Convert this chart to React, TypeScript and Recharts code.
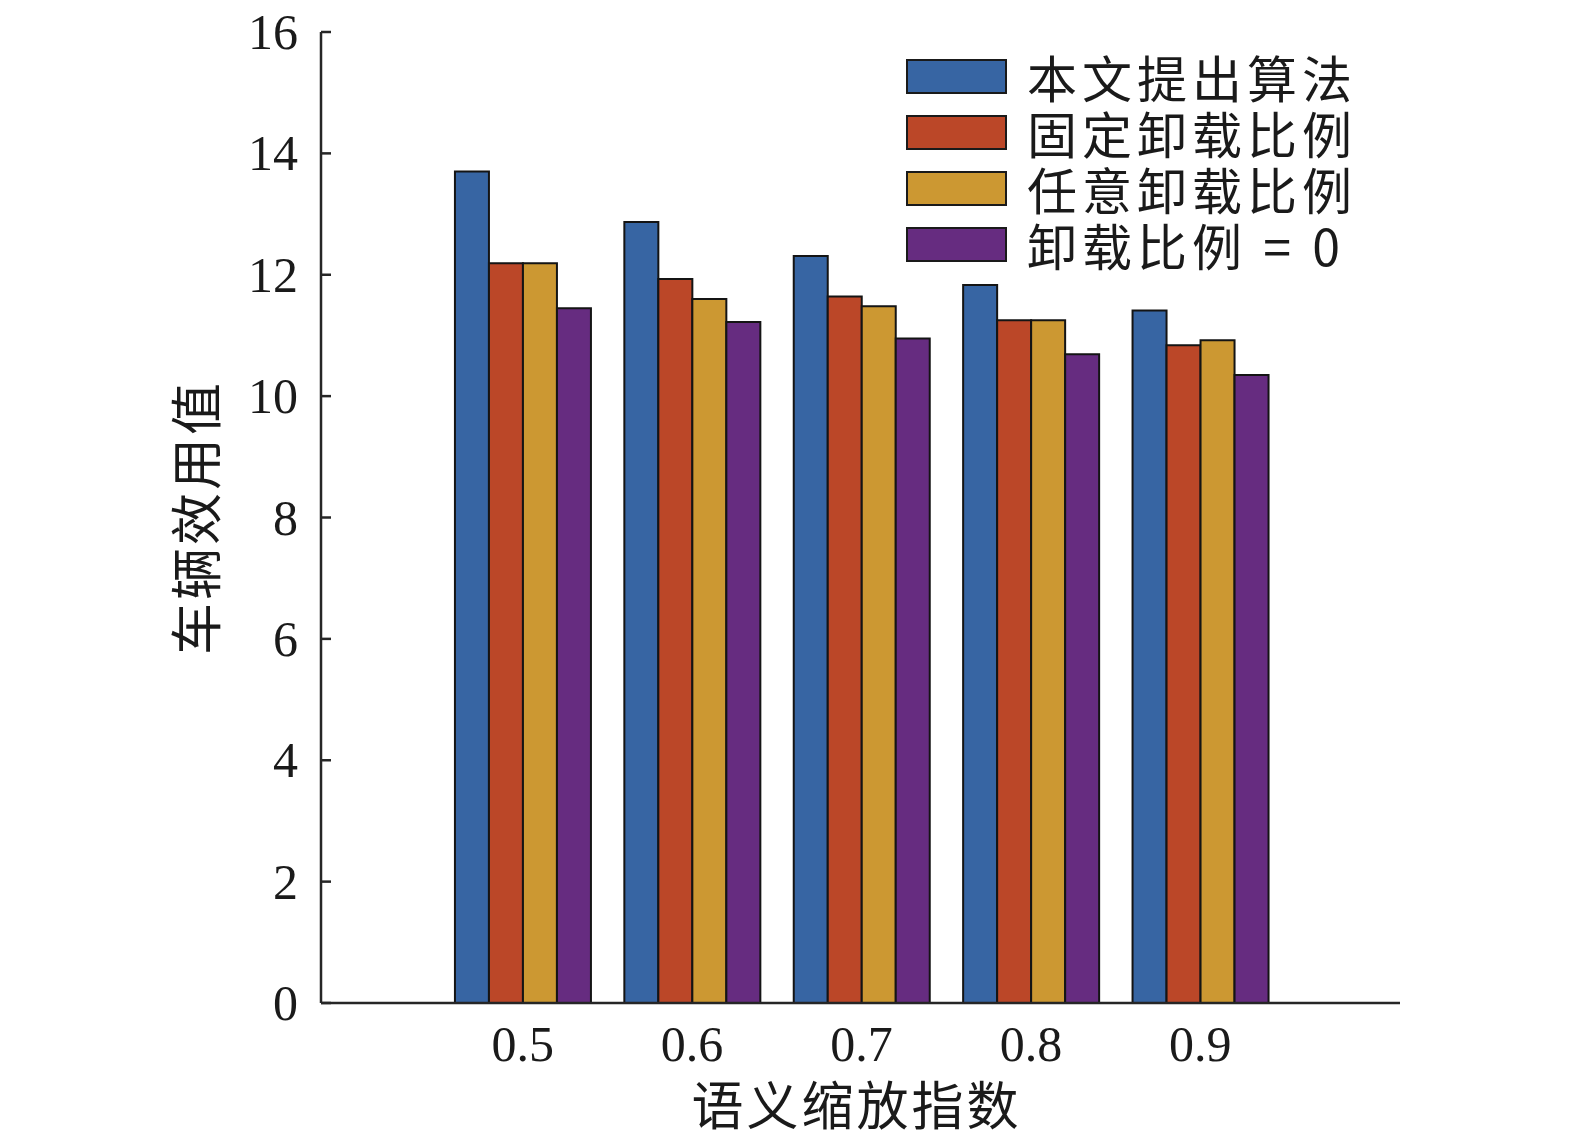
import { BarChart, Bar, XAxis, YAxis, Legend } from "recharts";

const categories = ["0.5", "0.6", "0.7", "0.8", "0.9"];
const proposed = [13.7, 12.87, 12.31, 11.83, 11.41];
const fixedRatio = [12.19, 11.93, 11.64, 11.25, 10.84];
const randomRatio = [12.19, 11.6, 11.48, 11.25, 10.92];
const zeroRatio = [11.45, 11.22, 10.95, 10.69, 10.35];
const yTicks = [0, 2, 4, 6, 8, 10, 12, 14, 16];

const SERIES = [
  { key: "proposed", name: "本文提出算法", color: "#3765a3" },
  { key: "fixedRatio", name: "固定卸载比例", color: "#bb4728" },
  { key: "randomRatio", name: "任意卸载比例", color: "#cc9832" },
  { key: "zeroRatio", name: "卸载比例 = 0", color: "#662c80" },
];

const data = categories.map((c, i) => ({
  cat: c,
  proposed: proposed[i],
  fixedRatio: fixedRatio[i],
  randomRatio: randomRatio[i],
  zeroRatio: zeroRatio[i],
}));

const NUM_FONT = "'Liberation Serif', 'Noto Sans CJK SC', serif";
const CJK_FONT = "'Noto Sans CJK SC', 'Liberation Serif', serif";

const YTick = (props: any) => {
  const { x, y, payload } = props;
  return (
    <g>
      <line x1={x + 23} x2={x + 33} y1={y} y2={y} stroke="#262626" strokeWidth={2.5} />
      <text
        x={x}
        y={y}
        dy={17}
        textAnchor="end"
        fontSize={50}
        fontFamily={NUM_FONT}
        fill="#1a1a1a"
      >
        {payload.value}
      </text>
    </g>
  );
};

const LegendBox = () => (
  <div style={{ display: "flex", flexDirection: "column" }}>
    {SERIES.map((s) => (
      <div
        key={s.key}
        style={{ display: "flex", alignItems: "center", height: 56 }}
      >
        <div
          style={{
            width: 97,
            height: 31,
            background: s.color,
            border: "2px solid #1a1a1a",
            marginRight: 20,
          }}
        />
        <span
          style={{
            display: "inline-block",
            height: 50,
            overflow: "visible",
            fontFamily: CJK_FONT,
            fontSize: 50,
            letterSpacing: 5,
            color: "#1a1a1a",
            lineHeight: "50px",
            whiteSpace: "nowrap",
          }}
        >
          {s.name}
        </span>
      </div>
    ))}
  </div>
);

export default function App() {
  return (
    <div style={{ width: 1575, height: 1146, background: "#fff" }}>
      <style>{`body{margin:0}`}</style>
      <BarChart
        width={1575}
        height={1146}
        data={data}
        margin={{ top: 32, right: 175, bottom: 83, left: 0 }}
        barCategoryGap="10%"
        barGap={0}
      >
        <XAxis
          dataKey="cat"
          height={60}
          padding={{ left: 117, right: 115 }}
          tickLine={false}
          tickSize={0}
          tickMargin={22}
          axisLine={{ stroke: "#262626", strokeWidth: 2.5 }}
          tick={{ fontSize: 50, fontFamily: NUM_FONT, fill: "#1a1a1a" }}
          label={{
            content: (p: any) => {
              const vb = p.viewBox;
              return (
                <text
                  x={vb.x + vb.width / 2 - 4}
                  y={vb.y + vb.height + 62}
                  textAnchor="middle"
                  fontSize={52}
                  letterSpacing={3}
                  fontFamily={CJK_FONT}
                  fill="#1a1a1a"
                >
                  语义缩放指数
                </text>
              );
            },
          }}
        />
        <YAxis
          width={321}
          domain={[0, 16]}
          ticks={yTicks}
          interval={0}
          tickLine={false}
          tickSize={0}
          tickMargin={23}
          axisLine={{ stroke: "#262626", strokeWidth: 2.5 }}
          tick={<YTick />}
          label={{
            content: (p: any) => {
              const vb = p.viewBox;
              const cx = 198;
              const cy = vb.y + vb.height / 2;
              return (
                <text
                  x={cx}
                  y={cy}
                  dy={18}
                  textAnchor="middle"
                  transform={`rotate(-90, ${cx}, ${cy})`}
                  fontSize={52}
                  letterSpacing={3}
                  fontFamily={CJK_FONT}
                  fill="#1a1a1a"
                >
                  车辆效用值
                </text>
              );
            },
          }}
        />
        <Legend
          layout="horizontal"
          verticalAlign="middle"
          align="center"
          content={<LegendBox />}
          wrapperStyle={{ position: "absolute", left: 906, top: 48, width: "auto" }}
        />
        {SERIES.map((s) => (
          <Bar
            key={s.key}
            dataKey={s.key}
            name={s.name}
            fill={s.color}
            stroke="#141414"
            strokeWidth={2}
            isAnimationActive={false}
          />
        ))}
      </BarChart>
    </div>
  );
}
